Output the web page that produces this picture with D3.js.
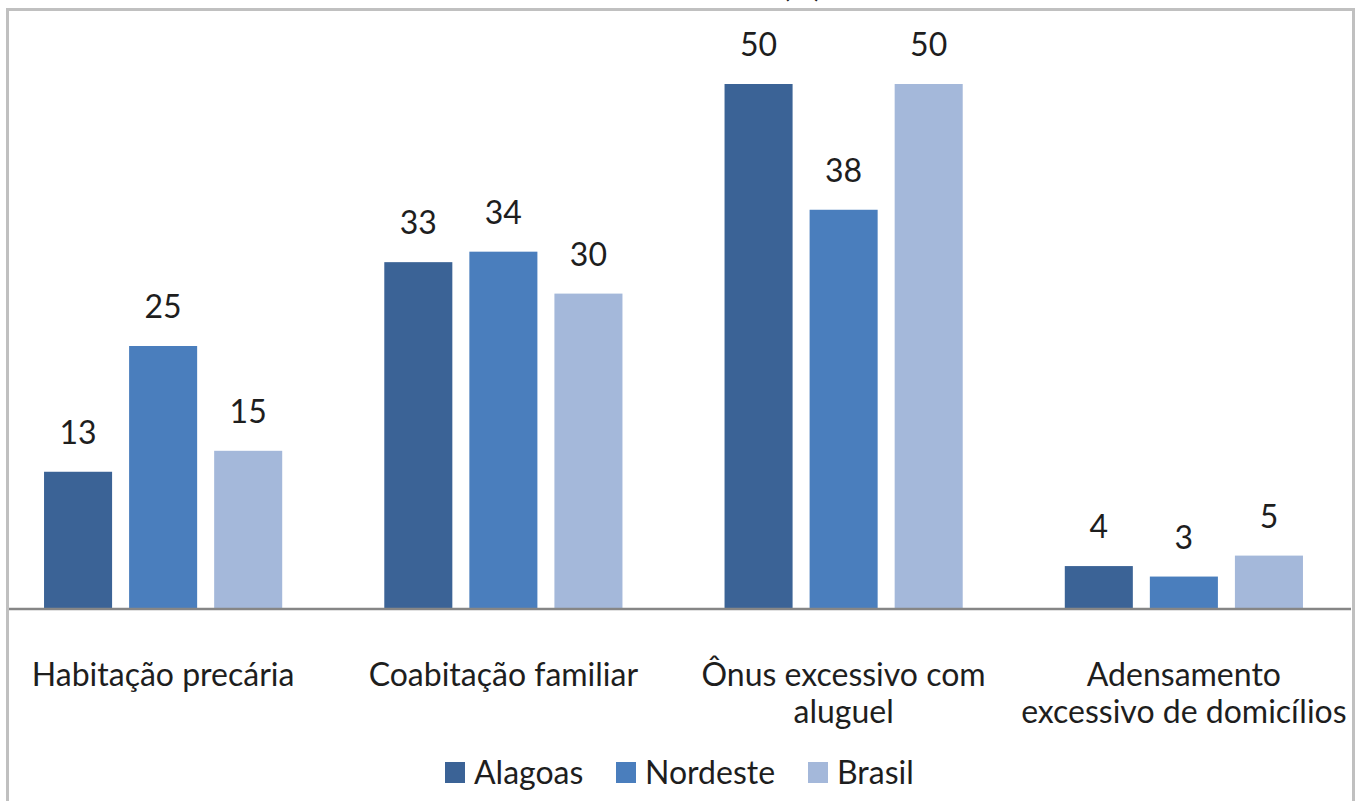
<!DOCTYPE html>
<html>
<head>
<meta charset="utf-8">
<script src="https://cdn.jsdelivr.net/npm/d3@7"></script>
<style>
body { margin: 0; background: #fff; }
text { font-family: Lato, "Open Sans", sans-serif; fill: #1e1e1e; }
</style>
</head>
<body>
<script>
var categories = [["Habitação precária"], ["Coabitação familiar"], ["Ônus excessivo com", "aluguel"], ["Adensamento", "excessivo de domicílios"]];
var series = ["Alagoas", "Nordeste", "Brasil"];
var alagoas = [13, 33, 50, 4];
var nordeste = [25, 34, 38, 3];
var brasil = [15, 30, 50, 5];
var colors = ["#3b6396", "#4a7ebd", "#a4b8da"];

var values = [alagoas, nordeste, brasil];
var w = 1357, h = 801;

var svg = d3.select("body").append("svg")
  .attr("width", w)
  .attr("height", h);

// cropped title fragment at the very top
svg.append("text")
  .attr("x", 802).attr("y", -3)
  .attr("text-anchor", "middle")
  .style("font-size", "30px")
  .text("(%)");

// frame (top, left, right only; bottom is cut off)
svg.append("path")
  .attr("d", "M7.5," + h + "V9.5H1353.5V" + h)
  .attr("fill", "none")
  .attr("stroke", "#c0c0c0")
  .attr("stroke-width", 3);

var keys = categories.map(function(d) { return d.join(" "); });

var x0 = d3.scaleBand()
  .domain(keys)
  .range([-7, 1354])
  .paddingInner(0.3)
  .paddingOuter(0.15);

var x1 = d3.scaleBand()
  .domain(series)
  .range([0, x0.bandwidth()])
  .paddingInner(0.2);

var y = d3.scaleLinear()
  .domain([0, 50])
  .range([608, 84]);

var groups = svg.selectAll("g.grp")
  .data(keys)
  .enter()
  .append("g")
  .attr("class", "grp")
  .attr("transform", function(d) { return "translate(" + x0(d) + ",0)"; });

groups.selectAll("rect")
  .data(function(d, i) { return series.map(function(s, j) { return {s: s, v: values[j][i], j: j}; }); })
  .enter()
  .append("rect")
  .attr("x", function(d) { return x1(d.s); })
  .attr("y", function(d) { return y(d.v); })
  .attr("width", x1.bandwidth())
  .attr("height", function(d) { return y(0) - y(d.v); })
  .attr("fill", function(d) { return colors[d.j]; });

groups.selectAll("text.val")
  .data(function(d, i) { return series.map(function(s, j) { return {s: s, v: values[j][i]}; }); })
  .enter()
  .append("text")
  .attr("class", "val")
  .attr("x", function(d) { return x1(d.s) + x1.bandwidth() / 2; })
  .attr("y", function(d) { return y(d.v) - 28; })
  .attr("text-anchor", "middle")
  .style("font-size", "32px")
  .text(function(d) { return d.v; });

// baseline
svg.append("line")
  .attr("x1", 9).attr("x2", 1351)
  .attr("y1", y(0) + 1).attr("y2", y(0) + 1)
  .attr("stroke", "#868686")
  .attr("stroke-width", 2.5);

// category labels
var cat = svg.selectAll("text.cat")
  .data(categories)
  .enter()
  .append("text")
  .attr("class", "cat")
  .attr("text-anchor", "middle")
  .style("font-size", "32px");

cat.selectAll("tspan")
  .data(function(d, i) { return d.map(function(t) { return {t: t, k: keys[i]}; }); })
  .enter()
  .append("tspan")
  .attr("x", function(d) { return x0(d.k) + x0.bandwidth() / 2; })
  .attr("y", function(d, i) { return 686 + i * 37; })
  .text(function(d) { return d.t; });

// legend
var legX = [445, 616, 808];
var leg = svg.selectAll("g.leg")
  .data(series)
  .enter()
  .append("g")
  .attr("class", "leg")
  .attr("transform", function(d, i) { return "translate(" + legX[i] + ",762)"; });

leg.append("rect")
  .attr("width", 20).attr("height", 21)
  .attr("fill", function(d, i) { return colors[i]; });

leg.append("text")
  .attr("x", 29).attr("y", 22)
  .style("font-size", "32px")
  .text(function(d) { return d; });
</script>
</body>
</html>
